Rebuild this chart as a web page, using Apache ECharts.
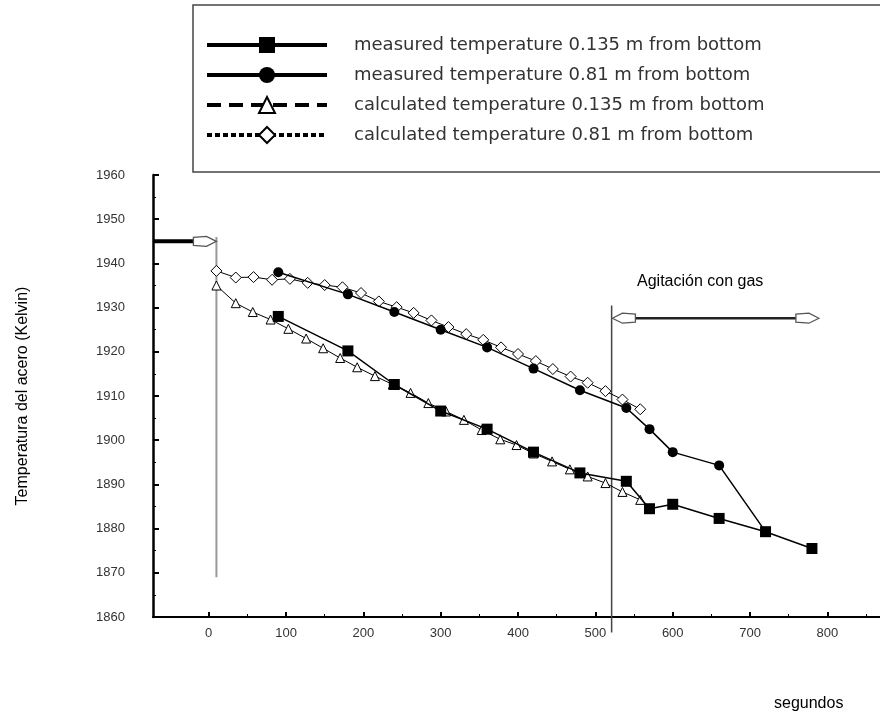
<!DOCTYPE html>
<html><head><meta charset="utf-8">
<script src="https://cdn.jsdelivr.net/npm/echarts@6/dist/echarts.min.js"></script>
<style>html,body{margin:0;padding:0;background:#fff}#c{width:880px;height:719px}</style>
</head><body><div id="c"></div>
<script>
// ---- data ----
const seriesNames = [
  'measured temperature 0.135 m from bottom',
  'measured temperature 0.81 m from bottom',
  'calculated temperature 0.135 m from bottom',
  'calculated temperature 0.81 m from bottom'
];
const xTickLabels = [0, 100, 200, 300, 400, 500, 600, 700, 800];
const xMinorTicks = [50, 150, 250, 350, 450, 550, 650, 750, 850];
const measured0135 = [[90,1928],[180,1920.2],[240,1912.6],[300,1906.6],[360,1902.5],[420,1897.3],[480,1892.6],[540,1890.7],[570,1884.5],[600,1885.5],[660,1882.3],[720,1879.3],[780,1875.5]];
const measured081 = [[90,1938],[180,1933],[240,1929],[300,1925],[360,1921],[420,1916.2],[480,1911.3],[540,1907.3],[570,1902.5],[600,1897.3],[660,1894.3],[720,1879.3]];
const calculated0135 = [[10,1935],[35,1931],[57,1929],[80,1927.3],[103,1925.2],[126,1923],[148,1920.8],[170,1918.6],[192,1916.5],[215,1914.5],[238,1912.6],[261,1910.7],[284,1908.4],[307,1906.5],[330,1904.6],[353,1902.3],[377,1900.2],[398,1898.9],[420,1897],[444,1895.2],[467,1893.4],[490,1891.8],[513,1890.3],[535,1888.3],[558,1886.5]];
const calculated081 = [[10,1938.3],[35,1936.8],[58,1936.9],[82,1936.3],[105,1936.5],[128,1935.6],[150,1935.1],[173,1934.6],[197,1933.3],[220,1931.4],[243,1930.1],[265,1928.8],[288,1927.1],[310,1925.6],[333,1924],[355,1922.7],[378,1921],[400,1919.5],[423,1917.9],[445,1916.1],[468,1914.4],[490,1913],[513,1911.1],[535,1909.2],[558,1907]];
// annotation geometry in data units
const startLine = [[10,1946],[10,1869]];
const gasLine = [[521,1930.5],[521,1856.5]];
const initArrow = [[-72,1945],[-12,1945]];
const gasArrow = [[530,1927.6],[780,1927.6]];
const arrowHeads = [[10,1945,1],[522,1927.6,-1],[789,1927.6,1]];

const chart = echarts.init(document.getElementById('c'), null, {renderer:'canvas'});
const ff = 'Liberation Sans, Arial, sans-serif';
const legendItems = [
  {name: seriesNames[0], lineStyle:{width:4, type:'solid'}},
  {name: seriesNames[1], lineStyle:{width:4, type:'solid'}},
  {name: seriesNames[2], lineStyle:{width:4, type:[14,8]}},
  {name: seriesNames[3], lineStyle:{width:4, type:[5,3]}}
];
chart.setOption({
  animation:false,
  backgroundColor:'#fff',
  grid:{left:153, right:0, top:175, bottom:102, containLabel:false},
  legend:{
    orient:'vertical', left:193, top:5, data:legendItems, selectedMode:false,
    itemWidth:120, itemHeight:20, itemGap:12,
    padding:[31, 200, 28, 12],
    backgroundColor:'#fff', borderColor:'#444', borderWidth:1.5,
    textStyle:{fontSize:18, color:'#333', fontFamily:'DejaVu Sans', padding:[0,0,0,22]}
  },
  xAxis:[{
    type:'value', min:-72, max:868, position:'bottom',
    axisLine:{show:true, onZero:false, lineStyle:{color:'#000', width:2}},
    axisTick:{show:true, inside:true, length:5, customValues:xTickLabels, lineStyle:{color:'#000', width:2}},
    axisLabel:{customValues:xTickLabels, margin:10, fontSize:13, color:'#333', fontFamily:ff},
    splitLine:{show:false}
  },{
    type:'value', min:-72, max:868, position:'bottom',
    axisLine:{show:false},
    axisTick:{show:true, inside:true, length:3, customValues:xMinorTicks, lineStyle:{color:'#000', width:1}},
    axisLabel:{show:false}, splitLine:{show:false}
  }],
  yAxis:{
    type:'value', min:1860, max:1960, interval:10,
    name:'Temperatura del acero (Kelvin)', nameLocation:'middle', nameGap:122, nameRotate:90,
    nameTextStyle:{fontSize:16, color:'#000', fontFamily:ff},
    axisLine:{show:true, onZero:false, lineStyle:{color:'#000', width:2.5}},
    axisTick:{show:true, inside:true, length:6, lineStyle:{color:'#000', width:2}},
    minorTick:{show:true, splitNumber:2, length:3, lineStyle:{color:'#000', width:1}},
    axisLabel:{margin:28, fontSize:13, color:'#333', fontFamily:ff, formatter:function(v){return String(v);}},
    splitLine:{show:false}
  },
  graphic:[
    {type:'text', left:637, top:274, style:{text:'Agitación con gas', fontSize:16, fill:'#000', fontFamily:ff}},
    {type:'text', left:774, top:696, style:{text:'segundos', fontSize:16, fill:'#000', fontFamily:ff}}
  ],
  series:[
    {name:'startLine', type:'line', data:startLine, symbol:'none', silent:true, lineStyle:{color:'#999', width:2}, z:1},
    {name:'gasLine', type:'line', data:gasLine, symbol:'none', silent:true, clip:false, lineStyle:{color:'#444', width:1.5}, z:1},
    {name:'initArrow', type:'line', data:initArrow, symbol:'none', silent:true, clip:false, lineStyle:{color:'#000', width:4}, z:2},
    {name:'gasArrow', type:'line', data:gasArrow, symbol:'none', silent:true, lineStyle:{color:'#222', width:2.5}, z:2},
    {name:seriesNames[2], type:'line', data:calculated0135, symbol:'triangle', symbolSize:9,
      itemStyle:{color:'#fff', borderColor:'#000', borderWidth:1}, lineStyle:{color:'#000', width:1}, z:3},
    {name:seriesNames[3], type:'line', data:calculated081, symbol:'diamond', symbolSize:11,
      itemStyle:{color:'#fff', borderColor:'#000', borderWidth:1}, lineStyle:{color:'#000', width:1}, z:3},
    {name:seriesNames[0], type:'line', data:measured0135, symbol:'rect', symbolSize:11,
      itemStyle:{color:'#000', borderColor:'#000', borderWidth:0}, lineStyle:{color:'#000', width:1.5}, z:4},
    {name:seriesNames[1], type:'line', data:measured081, symbol:'circle', symbolSize:10,
      itemStyle:{color:'#000', borderColor:'#000', borderWidth:0}, lineStyle:{color:'#000', width:1.5}, z:4},
    {name:'arrowHeads', type:'custom', data:arrowHeads, silent:true, clip:false, z:6,
      encode:{x:0, y:1},
      renderItem:function(params, api){
        const p = api.coord([api.value(0), api.value(1)]);
        const d = api.value(2);
        const x = p[0], y = p[1];
        const pts = [[x,y],[x-d*10,y-5],[x-d*23,y-4],[x-d*23,y+4],[x-d*10,y+5]];
        return {type:'polygon', shape:{points:pts}, style:{fill:'#fff', stroke:'#555', lineWidth:1.3}};
      }}
  ]
});
</script></body></html>
